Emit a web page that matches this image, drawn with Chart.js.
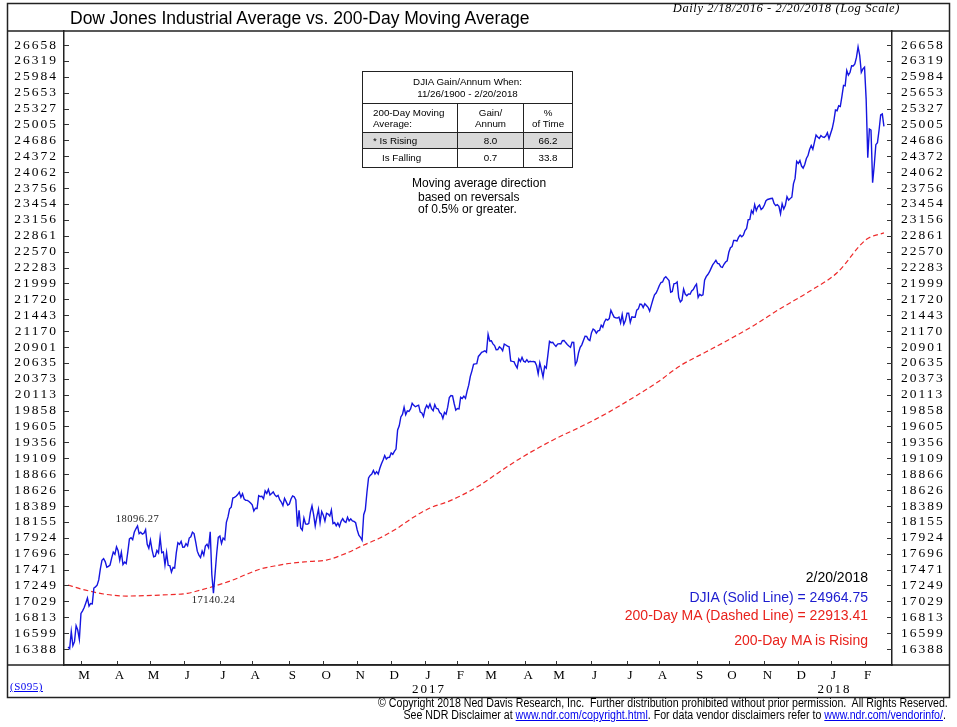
<!DOCTYPE html>
<html>
<head>
<meta charset="utf-8">
<title>Dow Jones Industrial Average vs. 200-Day Moving Average</title>
<script src="https://cdn.jsdelivr.net/npm/chart.js@4.4.1/dist/chart.umd.min.js"></script>
<style>
  body { margin: 0; background: #fff; }
  #page { position: relative; width: 957px; height: 727px; overflow: hidden; font-family: "Liberation Sans", Arial, sans-serif; color: #000; }
  #chart { position: absolute; left: 0; top: 0; }
  .txt { position: absolute; white-space: nowrap; line-height: 1; }
  #title { left: 70px; top: 10px; font-size: 17.5px; }
  #range { right: 57px; top: 2px; font: italic 12.5px "Liberation Serif", serif; letter-spacing: 0.6px; line-height: 1; }
  #stats { position: absolute; left: 362px; top: 71px; width: 210px; border-collapse: collapse; table-layout: fixed; font-size: 9.8px; }
  #stats td { border: 1px solid #222; text-align: center; padding: 0; line-height: 11.5px; }
  #stats td.l { text-align: left; padding-left: 10px; }
  #stats tr.rise td { background: #d9d9d9; }
  .note { font-size: 12px; }
  .side { right: 89px; font-size: 14px; text-align: right; }
  .copy { right: 9px; font-size: 12px; transform: scaleX(0.885); transform-origin: right center; }
  .copy a { color: #0000ee; text-decoration: underline; }
  #code { left: 10px; top: 680px; font: 11px "Liberation Serif", serif; color: #0000ee; text-decoration: underline; letter-spacing: 0.5px; }
</style>
</head>
<body>
<div id="page">
  <canvas id="chart" width="957" height="727"></canvas>
  <div class="txt" id="title">Dow Jones Industrial Average vs. 200-Day Moving Average</div>
  <div class="txt" id="range">Daily 2/18/2016 - 2/20/2018 (Log Scale)</div>
  <table id="stats">
    <colgroup><col style="width:95px"><col style="width:66px"><col style="width:49px"></colgroup>
    <tr style="height:32px"><td colspan="3">DJIA Gain/Annum When:<br>11/26/1900 - 2/20/2018</td></tr>
    <tr style="height:29px"><td class="l">200-Day Moving<br>Average:</td><td>Gain/<br>Annum</td><td>%<br>of Time</td></tr>
  </table>
  <div class="txt note" style="left:412px; top:177px;">Moving average direction</div>
  <div class="txt note" style="left:418px; top:191px;">based on reversals</div>
  <div class="txt note" style="left:418px; top:203px;">of 0.5% or greater.</div>
  <div class="txt side" style="top:570px; color:#000;">2/20/2018</div>
  <div class="txt side" style="top:590px; color:#1c1ccf;">DJIA (Solid Line) = 24964.75</div>
  <div class="txt side" style="top:608px; color:#e8221c;">200-Day MA (Dashed Line) = 22913.41</div>
  <div class="txt side" style="top:633px; color:#e8221c;">200-Day MA is Rising</div>
  <div class="txt" id="code">(S095)</div>
  <div class="txt copy" style="top:697px;">© Copyright 2018 Ned Davis Research, Inc.&nbsp; Further distribution prohibited without prior permission.&nbsp; All Rights Reserved.</div>
  <div class="txt copy" style="top:709px; right:11px;">See NDR Disclaimer at <a>www.ndr.com/copyright.html</a>. For data vendor disclaimers refer to <a>www.ndr.com/vendorinfo/</a>.</div>
</div>
<script>
// DJIA daily closes, one per trading session, 2/18/2016 .. 2/20/2018
const djia = [
  // 2016 Feb
  16413,16392,16621,16432,16485,16697,16640,16517,
  // Mar
  16865,16899,16944,17007,17074,16964,17000,16995,17213,17229,17252,17326,17481,17602,17624,17583,17503,17516,17535,17633,17717,17685,
  // Apr
  17793,17737,17603,17716,17542,17577,17556,17721,17908,17926,17897,18004,18054,18096,17983,18004,17977,17990,18042,17831,17774,
  // May
  17891,17751,17651,17661,17741,17706,17928,17711,17721,17535,17711,17530,17527,17435,17501,17493,17706,17852,17828,17873,17787,
  // Jun
  17790,17839,17807,17920,17938,18005,17985,17865,17732,17675,17640,17733,17675,17805,17830,17781,18011,17401,17140,17410,17695,17930,
  // Jul
  17949,17841,17919,17896,18147,18227,18348,18372,18506,18517,18533,18559,18595,18517,18571,18493,18474,18472,18456,18432,
  // Aug
  18405,18314,18355,18352,18544,18529,18533,18496,18614,18576,18636,18552,18574,18598,18553,18529,18547,18481,18448,18395,18503,18454,18401,
  // Sep
  18419,18492,18538,18526,18480,18085,18325,18067,18035,18212,18124,18120,18130,18294,18392,18261,18095,18228,18339,18143,18308,
  // Oct
  18254,18168,18281,18269,18240,18329,18129,18144,18099,18138,18086,18162,18203,18162,18146,18223,18169,18199,18170,18161,18142,
  // Nov
  18037,17960,17931,17888,18260,18333,18590,18808,18848,18869,18923,18868,18904,18868,18957,19024,19083,19152,19098,19122,19124,
  // Dec
  19192,19170,19216,19252,19550,19615,19757,19796,19911,19793,19852,19843,19883,19975,19942,19919,19934,19945,19834,19820,19763,
  // 2017 Jan
  19882,19942,19899,19964,19887,19856,19954,19891,19886,19827,19805,19732,19827,19800,19913,20069,20101,20094,19971,19864,
  // Feb
  19891,19885,20071,20052,20090,20054,20172,20269,20412,20504,20612,20620,20624,20743,20776,20810,20822,20837,20812,
  // Mar
  21116,21003,21006,20954,20925,20856,20858,20903,20881,20837,20950,20935,20915,20906,20668,20661,20657,20597,20551,20702,20659,20728,20663,
  // Apr
  20650,20689,20648,20663,20656,20658,20651,20592,20453,20637,20523,20404,20579,20548,20764,20996,20975,20981,20941,
  // May
  20913,20950,20958,20951,21007,21012,20976,20943,20919,20897,20982,20980,20607,20663,20805,20895,20938,21012,21083,21080,21029,21009,
  // Jun
  21144,21206,21184,21136,21174,21183,21272,21236,21328,21375,21360,21384,21529,21467,21410,21397,21395,21410,21311,21455,21287,21350,
  // Jul
  21479,21478,21320,21414,21409,21409,21532,21553,21638,21630,21575,21641,21612,21580,21513,21613,21711,21797,21830,21891,
  // Aug
  21964,22016,22026,22093,22118,22085,22049,21844,21858,21994,21999,22025,21751,21675,21704,21900,21812,21783,21814,21808,21865,21892,21948,
  // Sep
  21988,21753,21808,21785,21798,22057,22119,22158,22203,22268,22331,22371,22413,22359,22350,22296,22284,22341,22381,22405,
  // Oct
  22558,22642,22662,22775,22774,22761,22831,22873,22841,22872,22957,22997,23158,23163,23329,23274,23442,23329,23401,23434,23349,23377,
  // Nov
  23435,23516,23539,23548,23557,23563,23462,23422,23440,23409,23271,23458,23358,23430,23591,23526,23558,23581,23837,23941,24272,
  // Dec
  24232,24290,24181,24141,24211,24329,24386,24505,24585,24509,24652,24792,24755,24727,24782,24754,24746,24774,24838,24719,
  // 2018 Jan
  24824,24923,25075,25296,25283,25386,25369,25575,25803,25793,26116,26018,26072,26215,26211,26252,26393,26617,26439,26077,26149,
  // Feb
  26187,25521,24346,24913,24893,23860,24191,24601,24640,24893,25200,25219,24965
];

// 200-day moving average at these sessions
const maSession = [0,8,15,22,36,57,74,82,90,102,110,119,130,139,150,160,172,183,193,204,213,224,235,244,255,267,280,300,320,335,350,365,379,395,410,425,441,459,476,494,505];
const maValues  = [17255,17200,17162,17130,17102,17116,17140,17185,17235,17324,17400,17478,17530,17563,17585,17605,17700,17819,17920,18065,18210,18358,18452,18552,18700,18900,19110,19390,19634,19837,20070,20320,20590,20820,21040,21276,21560,21860,22190,22790,22913];

// x axis: first session of each month
const monthLabels = ['M','A','M','J','J','A','S','O','N','D','J','F','M','A','M','J','J','A','S','O','N','D','J','F'];
const monthStartSession = [8,30,51,72,94,114,137,158,179,200,221,241,260,283,302,324,346,366,389,409,431,452,472,493];
const yearSession = [221, 472];
const yearLabels = ['2017', '2018'];

// y axis tick labels (log scale)
const yTickValues = [26658,26319,25984,25653,25327,25005,24686,24372,24062,23756,23454,23156,22861,22570,22283,21999,21720,21443,21170,20901,20635,20373,20113,19858,19605,19356,19109,18866,18626,18389,18155,17924,17696,17471,17249,17029,16813,16599,16388];

// labelled points on the DJIA line
const noteSession = [43, 90];
const noteText = ['18096.27', '17140.24'];
const noteSide = [-1, 1];

// stats table rows
const statRows = [['* Is Rising', '8.0', '66.2'], ['Is Falling', '0.7', '33.8']];

const tbl = document.getElementById('stats');
statRows.forEach((r, i) => {
  const tr = tbl.insertRow();
  tr.style.height = i === 0 ? '16px' : '19px';
  if (i === 0) tr.className = 'rise';
  r.forEach((c, j) => {
    const td = tr.insertCell();
    td.textContent = c;
    if (j === 0) { td.className = 'l'; if (i === 1) td.style.paddingLeft = '19px'; }
  });
});

const serif = '"Liberation Serif", "Times New Roman", serif';

const framePlugin = {
  id: 'frame',
  beforeDraw(chart) {
    chart.ctx.letterSpacing = '2px';
  },
  afterDatasetsDraw(chart) {
    const ctx = chart.ctx, xs = chart.scales.x, ys = chart.scales.y;
    ctx.save();
    ctx.letterSpacing = '0.5px';
    ctx.font = '10.5px ' + serif;
    ctx.fillStyle = '#222';
    ctx.textAlign = 'center';
    ctx.textBaseline = 'middle';
    noteSession.forEach((s, i) => {
      const px = xs.getPixelForValue(s);
      const py = ys.getPixelForValue(djia[s]);
      ctx.fillText(noteText[i], px, py + noteSide[i] * 7);
    });
    ctx.restore();
  },
  afterDraw(chart) {
    const ctx = chart.ctx, a = chart.chartArea, ys = chart.scales.y, xs = chart.scales.x;
    ctx.save();
    ctx.strokeStyle = '#333';
    ctx.lineWidth = 1;
    // tick marks inside the plot
    ys.ticks.forEach(t => {
      const py = Math.round(ys.getPixelForValue(t.value)) + 0.5;
      ctx.beginPath();
      ctx.moveTo(a.left, py); ctx.lineTo(a.left + 5, py);
      ctx.moveTo(a.right - 5, py); ctx.lineTo(a.right, py);
      ctx.stroke();
    });
    xs.ticks.forEach(t => {
      const px = Math.round(xs.getPixelForValue(t.value)) + 0.5;
      ctx.beginPath();
      ctx.moveTo(px, a.bottom); ctx.lineTo(px, a.bottom - 4);
      ctx.stroke();
    });
    // outer frame
    ctx.lineWidth = 1.5;
    ctx.strokeStyle = '#222';
    ctx.strokeRect(7.5, 3.5, 942, 694);
    ctx.beginPath();
    ctx.moveTo(7, a.top); ctx.lineTo(950, a.top);
    ctx.moveTo(7, a.bottom); ctx.lineTo(950, a.bottom);
    ctx.stroke();
    ctx.restore();
    ctx.letterSpacing = '0px';
  }
};

const yAxis = (pos) => ({
  type: 'logarithmic',
  position: pos,
  min: 16178,
  max: 26960,
  afterBuildTicks: (s) => { s.ticks = yTickValues.map(v => ({ value: v })); },
  afterFit: (s) => { s.width = pos === 'left' ? 57 : 58; },
  ticks: {
    autoSkip: false,
    padding: pos === 'left' ? 6 : 9,
    color: '#000',
    font: { family: serif, size: 13.5 },
    callback: (v) => String(v)
  },
  grid: { display: true, drawOnChartArea: false, drawTicks: false },
  border: { display: true, color: '#222', width: 1.5 }
});

new Chart(document.getElementById('chart'), {
  type: 'line',
  data: {
    datasets: [
      {
        label: 'DJIA',
        data: djia.map((v, i) => ({ x: i, y: v })),
        borderColor: '#1515e0',
        borderWidth: 1.4,
        pointRadius: 0,
        tension: 0
      },
      {
        label: '200-Day MA',
        data: maSession.map((s, i) => ({ x: s, y: maValues[i] })),
        borderColor: '#ee2a2a',
        borderWidth: 1.2,
        borderDash: [5, 3],
        pointRadius: 0,
        cubicInterpolationMode: 'monotone'
      }
    ]
  },
  options: {
    responsive: false,
    animation: false,
    events: [],
    layout: { padding: { left: 7, right: 7, top: 31, bottom: 30 } },
    plugins: { legend: { display: false }, tooltip: { enabled: false } },
    scales: {
      x: {
        type: 'linear',
        min: -2.5,
        max: 510,
        afterBuildTicks: (s) => { s.ticks = monthStartSession.map(v => ({ value: v })); },
        afterFit: (s) => { s.height = 32; },
        ticks: {
          autoSkip: false,
          maxRotation: 0,
          padding: 3,
          labelOffset: 4,
          color: '#000',
          font: { family: serif, size: 13, lineHeight: 1.1 },
          callback: (v, i) => {
            const k = yearSession.indexOf(v);
            return k >= 0 ? [monthLabels[i], yearLabels[k]] : monthLabels[i];
          }
        },
        grid: { display: true, drawOnChartArea: false, drawTicks: false },
        border: { display: true, color: '#222', width: 1.5 }
      },
      y: yAxis('left'),
      y2: yAxis('right')
    }
  },
  plugins: [framePlugin]
});
</script>
</body>
</html>
